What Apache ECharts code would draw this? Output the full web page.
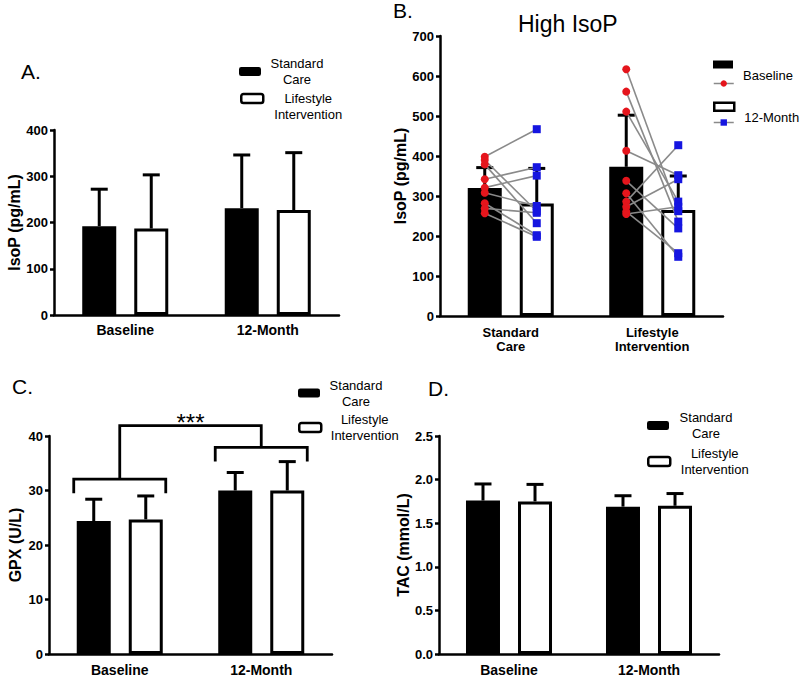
<!DOCTYPE html>
<html><head><meta charset="utf-8">
<script src="https://cdn.jsdelivr.net/npm/echarts@6/dist/echarts.min.js"></script>
<style>html,body{margin:0;padding:0;background:#fff}#c{width:800px;height:680px}</style>
</head><body><div id="c"></div>
<script>
// ---------- categories ----------
const TIME_CATS = ['Baseline', '12-Month'];
const ARM_CATS = ['Standard\nCare', 'Lifestyle\nIntervention'];
const GROUPS = ['Standard Care', 'Lifestyle Intervention'];
const TIMES = ['Baseline', '12-Month'];

// ---------- Panel A: IsoP (pg/mL), all participants ----------
const A_SC_MEAN = [192, 231];
const A_SC_SD = [80, 115];
const A_LI_MEAN = [187, 227];
const A_LI_SD = [116, 124];
const A_Y = [0, 400, 100];

// ---------- Panel B: High IsoP ----------
const B_BASE_MEAN = [320, 373];
const B_BASE_SD = [51, 129];
const B_M12_MEAN = [281, 265];
const B_M12_SD = [88, 85];
const B_SC_BASE = [398, 390, 379, 342, 321, 308, 282, 269, 257];
const B_SC_M12 = [467, 262, 232, 372, 351, 275, 202, 258, 198];
const B_LI_BASE = [617, 561, 511, 413, 338, 307, 286, 273, 261, 255];
const B_LI_M12 = [262, 236, 286, 352, 219, 148, 427, 342, 157, 273];
const B_Y = [0, 700, 100];

// ---------- Panel C: GPX (U/L) ----------
const C_SC_MEAN = [24.4, 30.0];
const C_SC_SD = [4.0, 3.3];
const C_LI_MEAN = [24.7, 30.0];
const C_LI_SD = [4.3, 5.3];
const C_PAIR_BRACKET = [32.1, 37.9];
const C_BRACKET_DROP = [2.6, 2.6];
const C_TOP_BRACKET = [41.9];
const C_SIG = '***';
const C_Y = [0, 40, 10];

// ---------- Panel D: TAC (mmol/L) ----------
const D_SC_MEAN = [1.76, 1.69];
const D_SC_SD = [0.19, 0.125];
const D_LI_MEAN = [1.75, 1.70];
const D_LI_SD = [0.195, 0.14];
const D_Y = [0, 2.5, 0.5];

// ---------- style / layout ----------
const FONT = 'Liberation Sans, Arial, Helvetica, sans-serif';
const BAR_W = 34, GAP = 0.53;
const OFF = BAR_W * (1 + GAP) / 2;
const CAP = 17;
const GRIDS = [
  {left: 54, top: 130, width: 285, height: 185},
  {left: 440, top: 36, width: 283, height: 280},
  {left: 49, top: 436, width: 283, height: 218},
  {left: 439, top: 436, width: 280, height: 218}
];
const B_CAT_W = GRIDS[1].width / 2;

function catAxis(g, data, fs, margin) {
  return {type: 'category', gridIndex: g, data,
    axisLine: {lineStyle: {color: '#000', width: 2.5}},
    axisTick: {alignWithLabel: true, length: 5, lineStyle: {color: '#000', width: 2.5}},
    axisLabel: {color: '#000', fontWeight: 'bold', fontSize: fs, fontFamily: FONT, margin, lineHeight: 14, interval: 0}};
}
function valAxis(g, name, r, nameGap, fmt) {
  return {type: 'value', gridIndex: g, min: r[0], max: r[1], interval: r[2], name, nameLocation: 'middle', nameGap,
    nameTextStyle: {color: '#000', fontWeight: 'bold', fontSize: 16, fontFamily: FONT},
    axisLine: {show: true, lineStyle: {color: '#000', width: 2.5}},
    axisTick: {show: true, length: 4, lineStyle: {color: '#000', width: 2.5}},
    axisLabel: {color: '#000', fontWeight: 'bold', fontSize: 13, fontFamily: FONT, margin: 6, formatter: fmt},
    splitLine: {show: false}};
}
function bar(name, xi, data, white) {
  return {type: 'bar', name, xAxisIndex: xi, yAxisIndex: xi, data, barWidth: BAR_W, barGap: (GAP * 100) + '%',
    itemStyle: {color: white ? '#fff' : '#000', borderColor: '#000', borderWidth: 3}, z: 2, silent: true};
}
function err(xi, means, sds, sign) {
  return {type: 'custom', xAxisIndex: xi, yAxisIndex: xi, silent: true, z: 3, clip: false,
    data: means.map((m, i) => [i, m, sds[i]]),
    renderItem(params, api) {
      const c = api.coord([api.value(0), api.value(1)]);
      const t = api.coord([api.value(0), api.value(1) + api.value(2)]);
      const x = c[0] + sign * OFF;
      const st = {stroke: '#000', lineWidth: 3};
      return {type: 'group', children: [
        {type: 'line', shape: {x1: x, y1: c[1], x2: x, y2: t[1]}, style: st},
        {type: 'line', shape: {x1: x - CAP / 2, y1: t[1], x2: x + CAP / 2, y2: t[1]}, style: st}
      ]};
    }};
}
const xR = g => g + 0.5 - OFF / B_CAT_W;
const xB = g => g + 0.5 + OFF / B_CAT_W;
function pairs(g, base, m12) {
  return base.map((b, i) => ({type: 'line', xAxisIndex: 4, yAxisIndex: 1, silent: true, z: 4,
    data: [[xR(g), b], [xB(g), m12[i]]], symbol: 'none', lineStyle: {color: '#8a8a8a', width: 1.6}}));
}

const series = [
  bar(GROUPS[0], 0, A_SC_MEAN, false), bar(GROUPS[1], 0, A_LI_MEAN, true),
  err(0, A_SC_MEAN, A_SC_SD, -1), err(0, A_LI_MEAN, A_LI_SD, 1),

  bar(TIMES[0], 1, B_BASE_MEAN, false), bar(TIMES[1], 1, B_M12_MEAN, true),
  err(1, B_BASE_MEAN, B_BASE_SD, -1), err(1, B_M12_MEAN, B_M12_SD, 1),
  ...pairs(0, B_SC_BASE, B_SC_M12), ...pairs(1, B_LI_BASE, B_LI_M12),
  {type: 'line', name: 'Baseline (individual)', xAxisIndex: 4, yAxisIndex: 1, silent: true, z: 5,
    data: [...B_SC_BASE.map(v => [xR(0), v]), ...B_LI_BASE.map(v => [xR(1), v])],
    symbol: 'circle', symbolSize: 8, showSymbol: true, lineStyle: {opacity: 0}, itemStyle: {color: '#e5151c'}},
  {type: 'line', name: '12-Month (individual)', xAxisIndex: 4, yAxisIndex: 1, silent: true, z: 5,
    data: [...B_SC_M12.map(v => [xB(0), v]), ...B_LI_M12.map(v => [xB(1), v])],
    symbol: 'rect', symbolSize: 8, showSymbol: true, lineStyle: {opacity: 0}, itemStyle: {color: '#1515e0'}},

  bar(GROUPS[0], 2, C_SC_MEAN, false), bar(GROUPS[1], 2, C_LI_MEAN, true),
  err(2, C_SC_MEAN, C_SC_SD, -1), err(2, C_LI_MEAN, C_LI_SD, 1),
  {type: 'custom', xAxisIndex: 2, yAxisIndex: 2, silent: true, clip: false, z: 3,
    data: C_PAIR_BRACKET.map((v, i) => [i, v, C_BRACKET_DROP[i]]),
    renderItem(params, api) {
      const c = api.coord([api.value(0), api.value(1)]);
      const d = api.coord([api.value(0), api.value(1) - api.value(2)]);
      const h = OFF + BAR_W / 2 + 3;
      return {type: 'polyline', shape: {points: [[c[0] - h, d[1]], [c[0] - h, c[1]], [c[0] + h, c[1]], [c[0] + h, d[1]]]},
        style: {stroke: '#000', lineWidth: 2.8, fill: 'none'}};
    }},
  {type: 'custom', xAxisIndex: 2, yAxisIndex: 2, silent: true, clip: false, z: 3,
    data: [[0, C_TOP_BRACKET[0], C_PAIR_BRACKET[0], C_PAIR_BRACKET[1]]],
    renderItem(params, api) {
      const top = api.value(1);
      const a = api.coord([0, top]), b = api.coord([1, top]);
      const la = api.coord([0, api.value(2)]), lb = api.coord([1, api.value(3)]);
      return {type: 'group', children: [
        {type: 'polyline', shape: {points: [[a[0], la[1]], [a[0], a[1]], [b[0], b[1]], [b[0], lb[1]]]},
          style: {stroke: '#000', lineWidth: 2.8, fill: 'none'}},
        {type: 'text', style: {text: C_SIG, x: (a[0] + b[0]) / 2, y: a[1] + 9, align: 'center', verticalAlign: 'bottom',
          fontSize: 24, fontFamily: FONT, fill: '#000'}}
      ]};
    }},

  bar(GROUPS[0], 3, D_SC_MEAN, false), bar(GROUPS[1], 3, D_LI_MEAN, true),
  err(3, D_SC_MEAN, D_SC_SD, -1), err(3, D_LI_MEAN, D_LI_SD, 1)
];

function groupLegend(name, left, top, w, white, padTop) {
  return {data: [{name, icon: 'roundRect', itemStyle: white ? {color: '#fff', borderColor: '#000', borderWidth: 2.5} : {color: '#000', borderColor: '#000', borderWidth: 0}}],
    left, top, padding: 0, itemWidth: 22, itemHeight: 9, selectedMode: false,
    formatter: n => n.split(' ').map(s => '{t|' + s + '}').join('\n'),
    textStyle: {color: '#000', fontFamily: FONT, fontSize: 13, padding: [padTop || 0, 0, 0, 0],
      rich: {t: {width: w, align: 'center', fontSize: 13, lineHeight: 16, fontFamily: FONT, color: '#000'}}}};
}
function timeLegend(name, top, white) {
  return {data: [{name, icon: 'rect', itemStyle: white ? {color: '#fff', borderColor: '#000', borderWidth: 2.5} : {color: '#000', borderWidth: 0}}],
    left: 713, top, padding: 0, itemWidth: 20, itemHeight: 8, selectedMode: false,
    formatter: n => '{t|' + n + '}',
    textStyle: {color: '#000', fontFamily: FONT, fontSize: 13, padding: [21, 0, 0, 5],
      rich: {t: {fontSize: 13, lineHeight: 15, fontFamily: FONT, color: '#000'}}}};
}
function dotLegend(name, top) {
  return {data: [name], left: 713, top, padding: 0, itemWidth: 20, itemHeight: 8, selectedMode: false,
    formatter: () => '', lineStyle: {color: '#8a8a8a', width: 1.5, opacity: 1}};
}

const title = [
  {text: 'A.', left: 21, top: 61},
  {text: 'B.', left: 393, top: 0},
  {text: 'High IsoP', left: 518, top: 12, fs: 23},
  {text: 'C.', left: 12, top: 376},
  {text: 'D.', left: 428, top: 378}
].map(t => ({text: t.text, left: t.left, top: t.top, padding: 0,
  textStyle: {fontSize: t.fs || 21, fontWeight: 'normal', fontFamily: FONT, color: '#000'}}));

const chart = echarts.init(document.getElementById('c'), null, {renderer: 'svg'});
chart.setOption({
  animation: false,
  backgroundColor: '#fff',
  title,
  grid: GRIDS,
  xAxis: [
    catAxis(0, TIME_CATS, 14, 8),
    catAxis(1, ARM_CATS, 13, 9),
    catAxis(2, TIME_CATS, 14, 9),
    catAxis(3, TIME_CATS, 14, 9),
    {type: 'value', gridIndex: 1, min: 0, max: 2, show: false}
  ],
  yAxis: [
    valAxis(0, 'IsoP (pg/mL)', A_Y, 30),
    valAxis(1, 'IsoP (pg/mL)', B_Y, 28),
    valAxis(2, 'GPX (U/L)', C_Y, 26),
    valAxis(3, 'TAC (mmol/L)', D_Y, 27, v => v.toFixed(1))
  ],
  legend: [
    groupLegend(GROUPS[0], 239, 57, 62, false),
    groupLegend(GROUPS[1], 240, 92, 80, true, 16),
    groupLegend(GROUPS[0], 298, 378.5, 62, false),
    groupLegend(GROUPS[1], 298, 413, 77, true),
    groupLegend(GROUPS[0], 647, 411, 64, false),
    groupLegend(GROUPS[1], 647, 447, 79, true),
    timeLegend(TIMES[0], 60.5, false),
    dotLegend('Baseline (individual)', 79.5),
    timeLegend(TIMES[1], 101.5, true),
    dotLegend('12-Month (individual)', 118.5)
  ],
  series
});
</script></body></html>
